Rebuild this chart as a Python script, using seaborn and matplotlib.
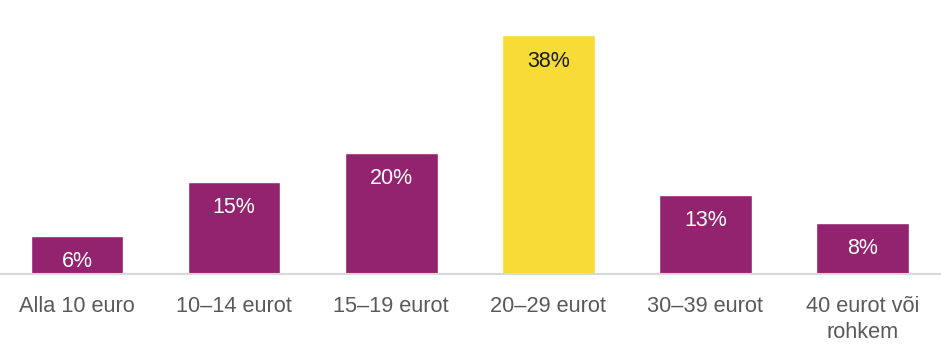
import matplotlib
matplotlib.use("Agg")
import matplotlib.pyplot as plt
import seaborn as sns
import pandas as pd

categories = ["Alla 10 euro", "10–14 eurot", "15–19 eurot", "20–29 eurot", "30–39 eurot", "40 eurot või\nrohkem"]
values = [6.2, 14.8, 19.5, 38.5, 12.7, 8.2]
labels = ["6%", "15%", "20%", "38%", "13%", "8%"]
highlight = "20–29 eurot"

purple = "#93236F"
yellow = "#F7DC37"

sns.set_theme(style="white")
plt.rcParams["font.family"] = ["Liberation Sans", "DejaVu Sans"]

df = pd.DataFrame({"cat": categories, "val": values})
palette = {c: (yellow if c == highlight else purple) for c in categories}

fig = plt.figure(figsize=(9.41, 3.48), dpi=100)
ax = fig.add_axes([0, 74 / 348, 1, 274 / 348])
sns.barplot(data=df, x="cat", y="val", hue="cat", palette=palette, width=0.59,
            legend=False, ax=ax, saturation=1)

for i, (v, lab, c) in enumerate(zip(values, labels, categories)):
    ax.annotate(lab, (i, v), xytext=(0, -18.5), textcoords="offset points",
                ha="center", va="center", fontsize=15.5,
                color="#1a1a1a" if c == highlight else "white")

ax.set_xlim(-0.49, 5.5)
ax.set_ylim(0, 44.2)
ax.set_xlabel("")
ax.set_ylabel("")
ax.set_yticks([])
for s in ["top", "left", "right"]:
    ax.spines[s].set_visible(False)
ax.spines["bottom"].set_color("#D9D9D9")
ax.spines["bottom"].set_linewidth(1.5)
ax.tick_params(axis="x", length=0, pad=16, labelsize=15.7, labelcolor="#595959")
for t in ax.get_xticklabels():
    t.set_linespacing(1.3)

fig.savefig("out.png", dpi=100)
